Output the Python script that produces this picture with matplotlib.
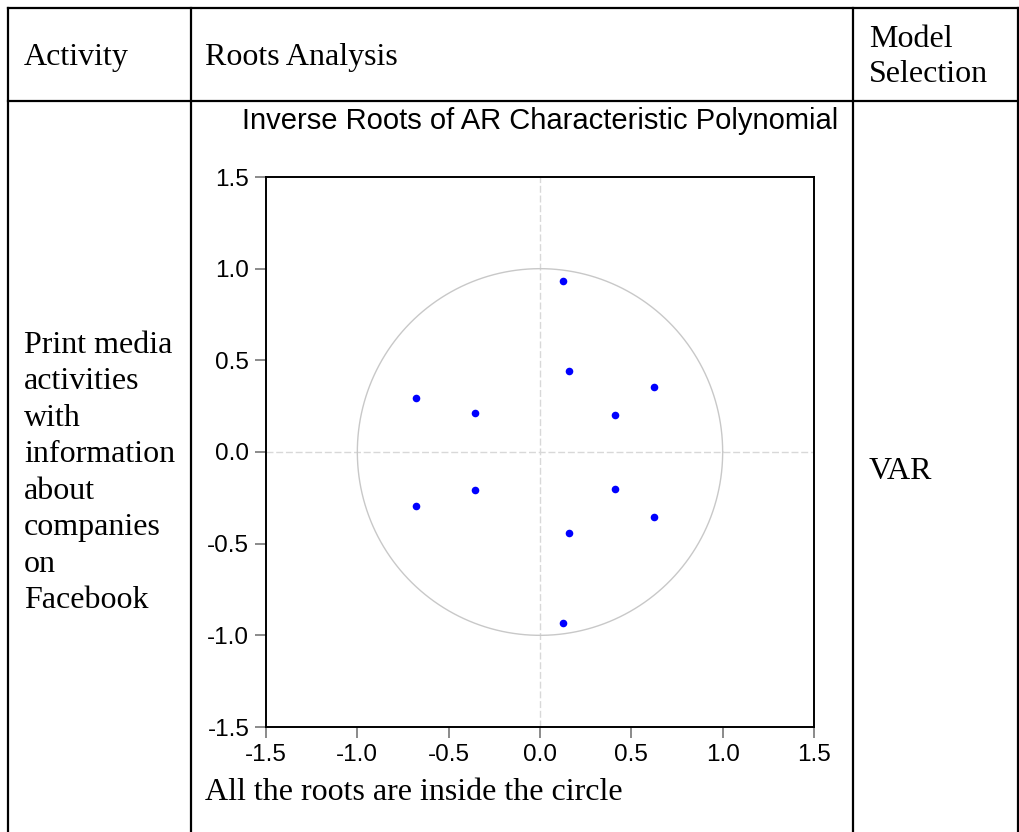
import matplotlib
matplotlib.use("Agg")
import matplotlib.pyplot as plt
import numpy as np
from matplotlib.lines import Line2D

# Data: inverse roots (real, imag)
root_real = [0.126, 0.126, 0.159, 0.159, 0.626, 0.626, 0.41, 0.41, -0.354, -0.354, -0.679, -0.679]
root_imag = [0.935, -0.935, 0.44, -0.44, 0.352, -0.352, 0.20, -0.20, 0.21, -0.21, 0.295, -0.295]
tick_vals = [-1.5, -1.0, -0.5, 0.0, 0.5, 1.0, 1.5]
tick_labels = ["-1.5", "-1.0", "-0.5", "0.0", "0.5", "1.0", "1.5"]
header = ["Activity", "Roots Analysis", "Model\nSelection"]
activity_text = "Print media\nactivities\nwith\ninformation\nabout\ncompanies\non\nFacebook"
model_text = "VAR"
chart_title = "Inverse Roots of AR Characteristic Polynomial"
note_text = "All the roots are inside the circle"

W, H = 1019, 832
fig = plt.figure(figsize=(W / 100, H / 100), dpi=100)
fig.patch.set_facecolor("white")

def fx(px):
    return px / W

def fy(py):
    return 1 - py / H

serif = ["Liberation Serif", "DejaVu Serif"]
sans = ["Liberation Sans", "DejaVu Sans"]

# Table lines
lw = 1.6
for (x0, y0, x1, y1) in [
    (8, 8, 1019, 8),
    (8, 101, 1019, 101),
    (8, 8, 8, 832),
    (191, 8, 191, 832),
    (853, 8, 853, 832),
    (1018, 8, 1018, 832),
]:
    fig.add_artist(Line2D([fx(x0), fx(x1)], [fy(y0), fy(y1)], color="black", lw=lw))

fs = 23
fig.text(fx(24), fy(58), header[0], family=serif, fontsize=fs, va="center", ha="left")
fig.text(fx(205), fy(58), header[1], family=serif, fontsize=fs, va="center", ha="left")
fig.text(fx(869), fy(57), header[2], family=serif, fontsize=fs, va="center", ha="left",
         linespacing=1.25)
fig.text(fx(24), fy(473), activity_text, family=serif, fontsize=fs, va="center", ha="left",
         linespacing=1.34)
fig.text(fx(869), fy(471), model_text, family=serif, fontsize=fs, va="center", ha="left")
fig.text(fx(205), fy(793), note_text, family=serif, fontsize=fs, va="center", ha="left")

# Chart
ax = fig.add_axes([fx(266), fy(727), (814 - 266) / W, (727 - 177) / H])
ax.set_xlim(-1.5, 1.5)
ax.set_ylim(-1.5, 1.5)
theta = np.linspace(0, 2 * np.pi, 400)
ax.plot(np.cos(theta), np.sin(theta), color="#c8c8c8", lw=1.0, zorder=1)
ax.axhline(0, color="#d8d8d8", lw=1.0, ls=(0, (5, 2)), zorder=0)
ax.axvline(0, color="#d8d8d8", lw=1.0, ls=(0, (5, 2)), zorder=0)
ax.scatter(root_real, root_imag, s=30, color="#0000ff", zorder=3, linewidths=0)

ax.set_xticks(tick_vals)
ax.set_xticklabels(tick_labels)
ax.set_yticks(tick_vals)
ax.set_yticklabels(tick_labels)
ax.tick_params(axis="both", direction="out", length=8, width=1.2, color="#777777",
               labelsize=17.5, pad=4)
for lab in ax.get_xticklabels() + ax.get_yticklabels():
    lab.set_family(sans)
for sp in ax.spines.values():
    sp.set_linewidth(1.4)
    sp.set_color("black")

fig.text(fx(540), fy(121), chart_title, family=sans, fontsize=21, ha="center", va="center")

fig.savefig("out.png", dpi=100, facecolor="white")
